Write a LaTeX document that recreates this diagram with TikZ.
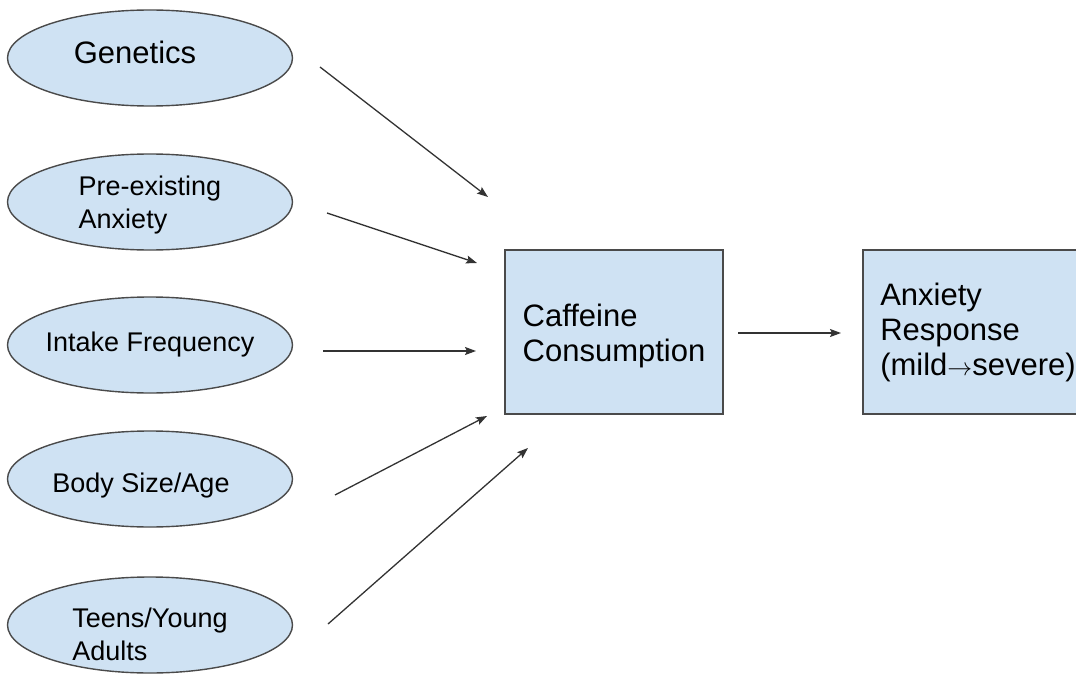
\documentclass[tikz,border=0pt]{standalone}
\usepackage{fontspec}
\setmainfont{Liberation Sans}
\usepackage{xcolor}
\usetikzlibrary{positioning}
\usetikzlibrary{arrows.meta,shapes}
\definecolor{boxblue}{HTML}{CFE2F3}
\definecolor{edgegray}{HTML}{4A4A4A}

\tikzset{
  factor/.style={ellipse,draw=edgegray,line width=1.4pt,fill=boxblue,inner sep=-6pt,
    minimum width=285pt,minimum height=96pt,align=left,
    font=\fontsize{27}{33}\selectfont},
  block/.style={rectangle,draw=edgegray,line width=1.4pt,fill=boxblue,inner sep=0pt,
    minimum height=164pt,align=left,font=\fontsize{31}{35}\selectfont},
  link/.style={-{Stealth[length=11pt,width=8pt,inset=2pt]},line width=1.3pt,draw=black!80}
}

\begin{document}
\begin{tikzpicture}[x=1pt,y=-1pt,node distance=364pt,on grid]
  \useasboundingbox (0,0) rectangle (1076,682);
  \node[factor] (gen) at (150,58) {\fontsize{31}{35}\selectfont\rule[-12pt]{0pt}{12pt}Genetics\hspace*{30pt}};
  \node[factor] (pre) at (150,202) {\rule{0pt}{26pt}Pre-existing\\Anxiety};
  \node[factor] (freq) at (150,345) {Intake Frequency};
  \node[factor] (body) at (150,479) {\rule{0pt}{33pt}Body Size/Age\hspace*{18pt}};
  \node[factor] (teen) at (150,625) {\rule{0pt}{38pt}Teens/Young\\Adults};
  \node[block,minimum width=218pt] (caf) at (614,332) {\rule{0pt}{30pt}Caffeine\\Consumption};
  \node[block,minimum width=230pt] (resp) [right=of caf]
    {Anxiety\\Response\\(mild{\fontsize{24}{24}\selectfont$\rightarrow$}severe)};

  \coordinate (genA) at (320,67);  \coordinate (genB) at (488,197);
  \coordinate (preA) at (327,213); \coordinate (preB) at (477,263);
  \coordinate (freqA) at (323,351); \coordinate (freqB) at (476,351);
  \coordinate (bodyA) at (335,495); \coordinate (bodyB) at (487,416);
  \coordinate (teenA) at (328,624); \coordinate (teenB) at (528,448);
  \coordinate (cafA) at (738,333); \coordinate (cafB) at (841,333);

  \draw[link] (genA) -- (genB);
  \draw[link] (preA) -- (preB);
  \draw[link] (freqA) -- (freqB);
  \draw[link] (bodyA) -- (bodyB);
  \draw[link] (teenA) -- (teenB);
  \draw[link] (cafA) -- (cafB);
\end{tikzpicture}
\end{document}
